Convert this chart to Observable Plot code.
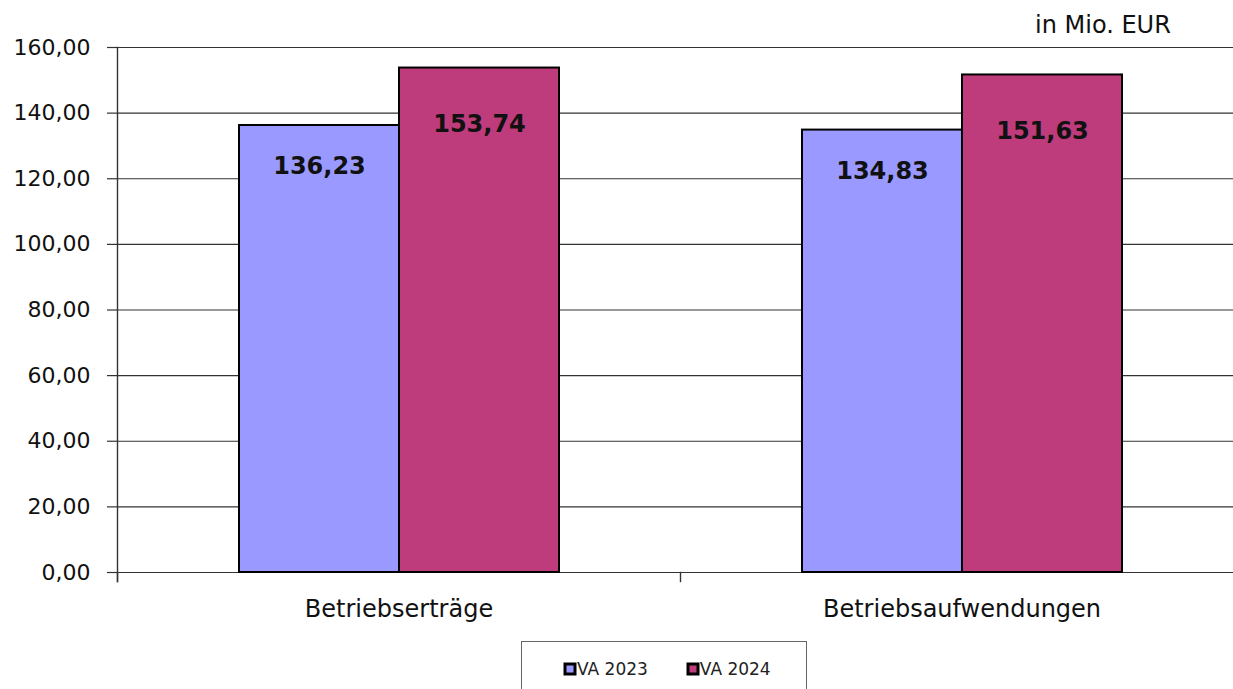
<!DOCTYPE html>
<html><head><meta charset="utf-8">
<script src="https://cdn.jsdelivr.net/npm/d3@7"></script>
<script src="https://cdn.jsdelivr.net/npm/@observablehq/plot@0.6"></script>
<style>
body{margin:0;background:#fff;font-family:"DejaVu Sans",sans-serif;}
#wrap{position:relative;width:1233px;height:689px;overflow:hidden;}
#unit{position:absolute;left:1035px;top:11px;font-size:24px;color:#111;white-space:nowrap;}
#chart{position:absolute;left:0;top:0;width:1243px;}
#chart svg{max-width:none !important;width:1243px;height:630px !important;}
#legend{position:absolute;left:521px;top:641px;width:286px;height:70px;border:1px solid #666;box-sizing:border-box;background:#fff;}
#legend .lg-swatches{position:absolute;left:43px;top:10px;width:260px;display:flex !important;flex-wrap:nowrap !important;white-space:nowrap;font-family:"DejaVu Sans",sans-serif;font-size:17px;color:#222;margin:0;}
#legend .lg-swatch{margin-right:40px !important;display:inline-flex;align-items:center;}
#legend .lg-swatch svg{margin-right:2px !important;}
#legend .lg-swatch svg rect{stroke:#000;stroke-width:3;}
</style></head>
<body><div id="wrap"><div id="chart"></div><div id="unit">in Mio. EUR</div><div id="legend"></div></div>
<script>
const categories = ["Betriebserträge", "Betriebsaufwendungen"];
const seriesNames = ["VA 2023", "VA 2024"];
const va2023 = [136.23, 134.83];
const va2024 = [153.74, 151.63];
const yTicks = [0, 20, 40, 60, 80, 100, 120, 140, 160];
const seriesColors = ["#9999FF", "#BE3C7C"];

const de = d3.formatLocale({decimal: ",", thousands: ".", grouping: [3], currency: ["", " €"]});
const fmt = de.format(".2f");

const data = categories.flatMap((c, i) => [
  {cat: c, series: seriesNames[0], value: va2023[i]},
  {cat: c, series: seriesNames[1], value: va2024[i]}
]);

const plot = Plot.plot({
  width: 1243,
  height: 630,
  marginLeft: 117,
  marginRight: 0,
  marginTop: 47,
  marginBottom: 58,
  style: {fontFamily: "DejaVu Sans, sans-serif", color: "#111", background: "transparent"},
  fx: {domain: categories, padding: 0, label: null},
  x: {domain: seriesNames, paddingInner: 0, paddingOuter: 0.75, axis: null},
  y: {domain: [0, 160], label: null},
  color: {domain: seriesNames, range: seriesColors},
  marks: [
    Plot.gridY(yTicks, {stroke: "#333", strokeOpacity: 1, strokeWidth: 1.2}),
    Plot.axisY(yTicks, {tickSize: 10, tickPadding: 17, tickFormat: fmt, fontSize: 22, label: null, stroke: "#333", strokeWidth: 1.2}),
    Plot.frame({anchor: "left", facetAnchor: "left", insetBottom: -9, stroke: "#333", strokeWidth: 1.4}),
    Plot.frame({anchor: "left", insetTop: 525, insetBottom: -9, stroke: "#333", strokeWidth: 1.4}),
    Plot.axisFx({anchor: "bottom", tickSize: 0, tickPadding: 27, fontSize: 24, label: null}),
    Plot.barY(data, {fx: "cat", x: "series", y: "value", fill: "series", stroke: "#000", strokeWidth: 2}),
    Plot.text(data.filter(d => d.series === seriesNames[0]), {fx: "cat", x: "series", y: "value", text: d => fmt(d.value), dy: 41, fontSize: 24, fontWeight: "bold", fill: "#111"}),
    Plot.text(data.filter(d => d.series === seriesNames[1]), {fx: "cat", x: "series", y: "value", text: d => fmt(d.value), dy: 56, fontSize: 24, fontWeight: "bold", fill: "#111"})
  ]
});
document.getElementById("chart").appendChild(plot);

const legend = Plot.legend({color: {domain: seriesNames, range: seriesColors}, legend: "swatches", swatchSize: 10, className: "lg"});
document.getElementById("legend").appendChild(legend);
</script>
</body></html>
